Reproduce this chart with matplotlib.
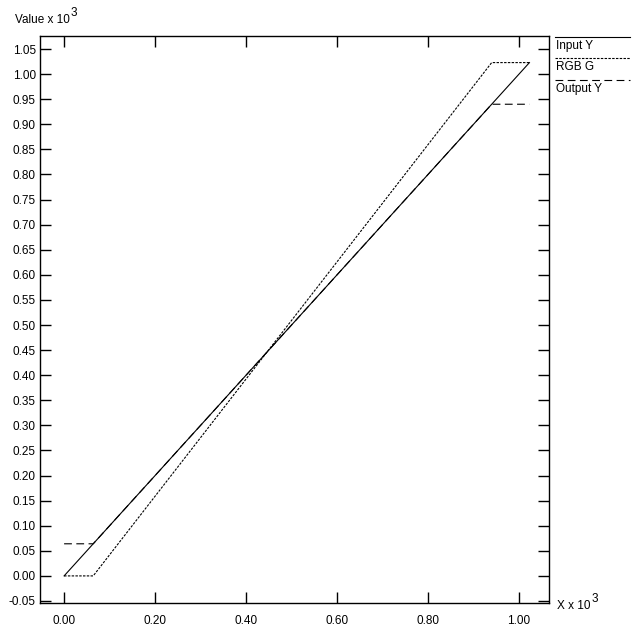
import numpy as np
import matplotlib
matplotlib.use("Agg")
import matplotlib.pyplot as plt
from matplotlib.lines import Line2D

plt.rcParams["font.family"] = ["Liberation Sans", "DejaVu Sans"]
plt.rcParams["axes.unicode_minus"] = False

# values in units of 10^3
input_x = [0.0, 1.023]
input_y = [0.0, 1.023]
rgb_x = [0.0, 0.064, 0.940, 1.023]
rgb_g = [0.0, 0.0, 1.023, 1.023]
out_x = [0.0, 0.064, 0.940, 1.023]
out_y = [0.064, 0.064, 0.940, 0.940]

x_ticks = np.arange(0.0, 1.01, 0.2)
y_ticks = np.arange(-0.05, 1.051, 0.05)

W, H = 640, 635
FS = 8.5
fig = plt.figure(figsize=(W / 100, H / 100), dpi=100)
ax = fig.add_axes([40 / W, 1 - 603 / H, (549 - 40) / W, (603 - 36) / H])

lw = 0.8
ax.plot(out_x, out_y, color="black", lw=lw, ls=(0, (7, 4)))
ax.plot(rgb_x, rgb_g, color="black", lw=lw, ls=(0, (2.2, 1.2)))
ax.plot(input_x, input_y, color="black", lw=lw, ls="-")

ax.set_xlim(-0.053, 1.066)
ax.set_ylim(-0.054, 1.076)
ax.set_xticks(x_ticks)
ax.set_yticks(y_ticks)
ax.set_xticklabels([f"{v:.2f}" for v in x_ticks])
ax.set_yticklabels([f"{v:.2f}" for v in y_ticks])
ax.tick_params(axis="x", direction="in", length=8, width=1, top=True,
               labelsize=FS, pad=9)
ax.tick_params(axis="y", direction="in", length=8, width=1, right=True,
               labelsize=FS, pad=3)
for s in ax.spines.values():
    s.set_linewidth(1.0)


def label_pow(x, y, txt):
    # "... x 10" with a full-size raised exponent, like the original
    t = fig.text(x / W, 1 - y / H, txt, fontsize=FS, va="baseline")
    fig.canvas.draw()
    bb = t.get_window_extent()
    fig.text((bb.x1 + 1) / W, 1 - (y - 7) / H, "3", fontsize=FS, va="baseline")


label_pow(15, 23, "Value x 10")
label_pow(557, 609, "X x 10")

# legend outside on the right: line above each label
leg = [("Input Y", "-", 37), ("RGB G", (0, (2.2, 1.2)), 58), ("Output Y", (0, (7, 4)), 80)]
for name, style, yy in leg:
    fig.add_artist(Line2D([555 / W, 630 / W], [1 - yy / H, 1 - yy / H],
                          color="black", lw=lw, ls=style))
    fig.text(556 / W, 1 - (yy + 3) / H, name, fontsize=FS, va="top")

fig.savefig("out.png", dpi=100)
